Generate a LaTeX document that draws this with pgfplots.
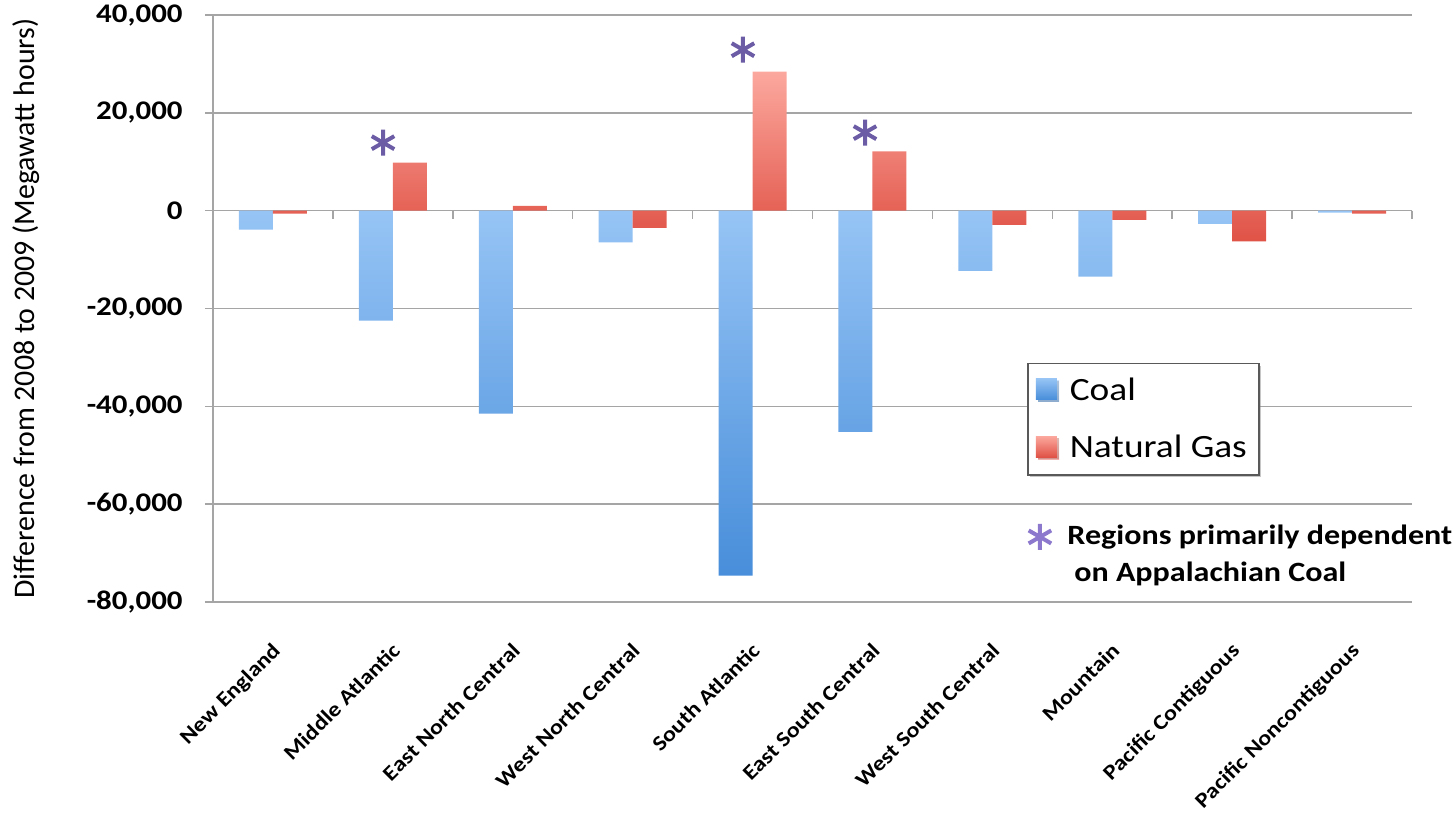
\documentclass[border=0pt]{standalone}
\usepackage{fontspec}
\setmainfont{Carlito}[FakeStretch=1.15]
\newfontfamily\ylabfont{Carlito}
\usepackage{pgfplots}
\pgfplotsset{compat=1.18}
\usetikzlibrary{shadows}
\definecolor{gridgray}{RGB}{165,165,165}
\definecolor{coaltop}{RGB}{150,196,245}
\definecolor{coalbot}{RGB}{72,142,218}
\definecolor{gastop}{RGB}{252,168,158}
\definecolor{gasbot}{RGB}{224,82,70}
\definecolor{starc}{RGB}{108,92,165}
\definecolor{starlight}{RGB}{140,120,205}
\begin{document}
\begin{tikzpicture}
\useasboundingbox (-106.5bp,-106.5bp) rectangle (620.5bp,301bp);
\begin{axis}[
  at={(0,0)}, anchor=south west,
  scale only axis, width=599.5bp, height=293.5bp,
  xmin=-0.5, xmax=9.5, ymin=-80000, ymax=40000,
  ytick={-80000,-60000,-40000,-20000,0,20000,40000},
  scaled y ticks=false,
  xtick={0,1,2,3,4,5,6,7,8,9},
  xticklabels={New England,Middle Atlantic,East North Central,West North Central,South Atlantic,East South Central,West South Central,Mountain,Pacific Contiguous,Pacific Noncontiguous},
  axis x line*=bottom, axis y line*=left,
  axis line style={-},
  x axis line style={draw=none},
  y axis line style={gridgray, line width=0.75bp},
  ymajorgrids, grid style={gridgray, line width=0.75bp},
  xtick style={draw=none},
  ytick style={gridgray, line width=0.75bp},
  ytick align=outside, xtick align=inside, major tick length=4bp,
  /pgf/number format/assume math mode=true,
  /pgf/number format/1000 sep={,},
  yticklabel style={font=\bfseries\fontsize{13.5}{16}\selectfont, anchor=east, inner sep=0pt, xshift=-11bp},
  xticklabel style={font=\bfseries\fontsize{10.6}{13}\selectfont, inner sep=0pt, xshift=-1bp, yshift=-15.5bp, rotate=45, anchor=north east},
  ylabel={Difference from 2008 to 2009 (Megawatt hours)},
  every axis y label/.style={at={(axis description cs:-0.1676,0.5)}, rotate=90, anchor=north, inner sep=0pt, font=\ylabfont\fontsize{15}{18}\selectfont},
  ybar=0pt, bar width=17bp,
  clip=false,
  legend style={at={(0.679,0.407)}, anchor=north west, draw=gray!70!black, line width=0.7bp, fill=white,
    font=\fontsize{16.3}{19}\selectfont, row sep=12bp, inner xsep=4bp, inner ysep=5bp,
    drop shadow={shadow xshift=1.2bp, shadow yshift=-1.2bp, opacity=0.45}},
  legend cell align=left,
  legend image code/.code={\path[#1, draw=none] (0bp,-4.5bp) rectangle (10.5bp,6bp); \path (0bp,0bp) (15bp,0bp);},
]
\addplot[draw=none, top color=coaltop, bottom color=coalbot] coordinates {
  (0,-3900) (1,-22500) (2,-41500) (3,-6500) (4,-74600)
  (5,-45200) (6,-12300) (7,-13500) (8,-2700) (9,-400)};
\addlegendentry{Coal}
\addplot[draw=none, top color=gastop, bottom color=gasbot] coordinates {
  (0,-600) (1,9800) (2,1000) (3,-3500) (4,28400)
  (5,12100) (6,-2900) (7,-1900) (8,-6300) (9,-600)};
\addlegendentry{Natural Gas}
\addplot[forget plot, only marks, mark=asterisk, mark size=6.5bp, starc, line width=2bp] coordinates {
  (0.918,13900) (3.92,32900) (4.938,15950)};
\addplot[forget plot, only marks, mark=asterisk, mark size=6.5bp, starlight, line width=2bp] coordinates {
  (6.397,-66700)};
\pgfplotsinvokeforeach{0.5,1.5,2.5,3.5,4.5,5.5,6.5,7.5,8.5,9.5}{
  \draw[gridgray, line width=0.75bp] (axis cs:#1,0) -- ++(0bp,-4bp);
}
\node[anchor=base west, inner sep=0pt, font=\bfseries\fontsize{14}{17}\selectfont] at (axis cs:6.623,-68300) {Regions primarily dependent};
\node[anchor=base west, inner sep=0pt, font=\bfseries\fontsize{14}{17}\selectfont] at (axis cs:6.68,-75900) {on Appalachian Coal};
\end{axis}
\end{tikzpicture}
\end{document}
